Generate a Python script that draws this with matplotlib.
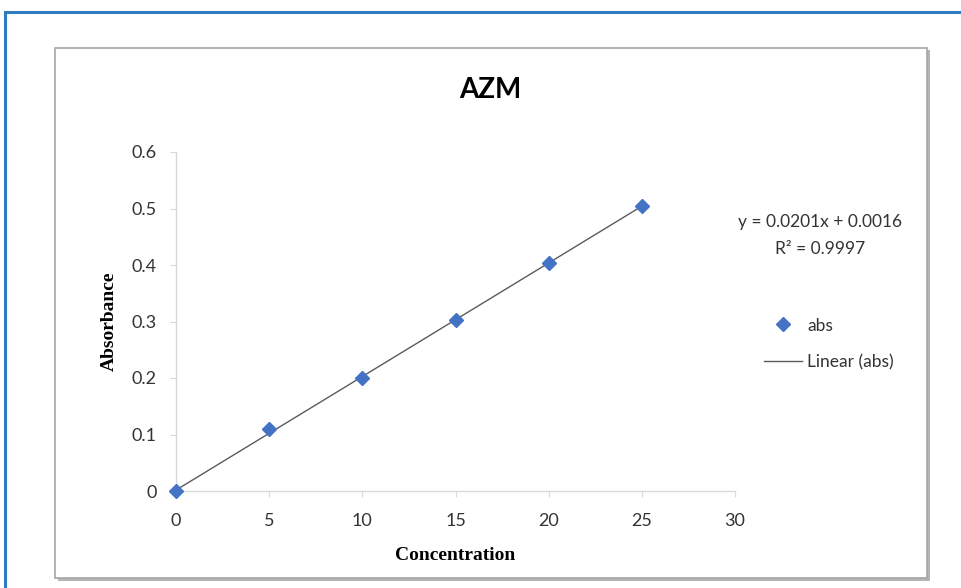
import numpy as np
import matplotlib.pyplot as plt
from matplotlib.patches import Rectangle

conc = [0, 5, 10, 15, 20, 25]
absb = [0, 0.109, 0.2, 0.302, 0.403, 0.505]
slope = 0.0201
icpt = 0.0016
xticks = [0, 5, 10, 15, 20, 25, 30]
yticks = [0, 0.1, 0.2, 0.3, 0.4, 0.5, 0.6]
ytlabels = ['0', '0.1', '0.2', '0.3', '0.4', '0.5', '0.6']

W, H = 961, 588
fig = plt.figure(figsize=(W / 100, H / 100), dpi=100)

# outer blue frame and inner chart box (kept behind the axes)
fig.patches.append(Rectangle((5 / W, -0.1), 1.2, 1 - 12 / H + 0.1, transform=fig.transFigure,
                             fill=False, edgecolor='#2f7bc0', linewidth=2.2, zorder=-3))
fig.patches.append(Rectangle((58 / W, 1 - 581 / H), 872 / W, 531 / H, transform=fig.transFigure,
                             facecolor='#b5b5b5', edgecolor='none', zorder=-2))
fig.patches.append(Rectangle((55 / W, 1 - 578 / H), 872 / W, 530 / H, transform=fig.transFigure,
                             facecolor='white', edgecolor='#a6a6a6', linewidth=1.2, zorder=-1))

ax = fig.add_axes([176 / W, 1 - 491 / H, 559 / W, 339 / H])
ax.patch.set_alpha(0)

xs = np.array([0, 25])
fit_line, = ax.plot(xs, slope * xs + icpt, color='#5a5a5a', lw=1.0, label='Linear (abs)')
pts, = ax.plot(conc, absb, 'D', color='#4472c4', ms=7, label='abs', zorder=3, clip_on=False)

ax.set_xlim(0, 30)
ax.set_ylim(0, 0.6)
ax.set_xticks(xticks)
ax.set_yticks(yticks)
ax.set_yticklabels(ytlabels)
for s in ['top', 'right']:
    ax.spines[s].set_visible(False)
for s in ['left', 'bottom']:
    ax.spines[s].set_color('#d9d9d9')
    ax.spines[s].set_linewidth(1.0)
ax.tick_params(colors='#d9d9d9', labelcolor='#333333', length=4, labelsize=13)
for lab in ax.get_xticklabels() + ax.get_yticklabels():
    lab.set_family('Lato')
ax.tick_params(axis='x', pad=12)
ax.tick_params(axis='y', pad=10)

ax.set_xlabel('Concentration', fontsize=14, fontweight='bold', family='Liberation Serif', labelpad=13)
ax.set_ylabel('Absorbance', fontsize=14, fontweight='bold', family='Liberation Serif', labelpad=10)

fig.text(490 / W, 1 - 90 / H, 'AZM', fontsize=20, fontweight='bold', family='Lato',
         ha='center', va='center')
fig.text(820 / W, 1 - 222 / H, 'y = 0.0201x + 0.0016', fontsize=12.5, family='Lato',
         ha='center', va='center', color='#333333')
fig.text(820 / W, 1 - 249 / H, 'R² = 0.9997', fontsize=12.5, family='Lato',
         ha='center', va='center', color='#333333')

leg = fig.legend(handles=[pts, fit_line], loc='center left', bbox_to_anchor=(748 / W, 1 - 344 / H),
                 frameon=False, prop={'family': 'Lato', 'size': 12.5}, handlelength=2.2,
                 labelspacing=1.2, handletextpad=0.3)
for t in leg.get_texts():
    t.set_color('#333333')

plt.savefig('out.png', dpi=100)
plt.close()
